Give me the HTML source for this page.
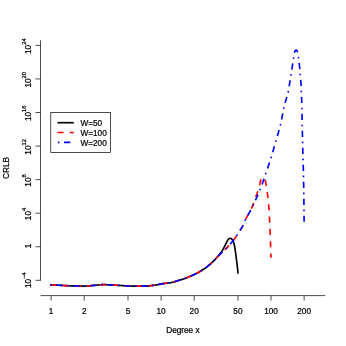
<!DOCTYPE html><html><head><meta charset="utf-8"><style>html,body{margin:0;padding:0;background:#fff}svg{display:block;will-change:transform}text{font-family:"Liberation Sans",sans-serif;fill:#000;stroke:#000;stroke-width:0.22px}</style></head><body>
<svg width="346" height="346" viewBox="0 0 346 346">
<rect width="346" height="346" fill="#fff"/>
<g fill="none" stroke-width="1.65" stroke-linejoin="round">
<path d="M50.20,284.90 L50.67,284.92 L51.14,284.93 L51.61,284.95 L52.08,284.97 L52.55,284.99 L53.03,285.01 L53.50,285.02 L53.97,285.04 L54.44,285.06 L54.91,285.08 L55.38,285.10 L55.85,285.12 L56.32,285.14 L56.79,285.16 L57.26,285.18 L57.73,285.20 L58.20,285.22 L58.68,285.24 L59.15,285.26 L59.62,285.28 L60.09,285.30 L60.56,285.33 L61.03,285.35 L61.50,285.37 L61.97,285.40 L62.44,285.42 L62.91,285.45 L63.38,285.48 L63.85,285.50 L64.32,285.53 L64.79,285.56 L65.26,285.58 L65.73,285.61 L66.21,285.63 L66.68,285.66 L67.15,285.68 L67.62,285.71 L68.09,285.73 L68.56,285.75 L69.03,285.77 L69.50,285.78 L69.97,285.80 L70.44,285.81 L70.91,285.83 L71.38,285.84 L71.86,285.86 L72.33,285.87 L72.80,285.89 L73.27,285.90 L73.74,285.91 L74.21,285.93 L74.68,285.94 L75.15,285.95 L75.63,285.97 L76.10,285.98 L76.57,285.99 L77.04,286.00 L77.51,286.01 L77.98,286.02 L78.45,286.03 L78.92,286.04 L79.40,286.05 L79.87,286.06 L80.34,286.07 L80.81,286.08 L81.28,286.08 L81.75,286.09 L82.22,286.09 L82.69,286.09 L83.16,286.10 L83.63,286.10 L84.10,286.10 L84.58,286.10 L85.05,286.09 L85.52,286.08 L85.99,286.06 L86.46,286.04 L86.93,286.01 L87.40,285.98 L87.87,285.95 L88.34,285.91 L88.81,285.87 L89.28,285.83 L89.75,285.79 L90.22,285.74 L90.69,285.70 L91.16,285.65 L91.63,285.61 L92.10,285.56 L92.57,285.52 L93.04,285.48 L93.51,285.44 L93.98,285.40 L94.45,285.36 L94.92,285.32 L95.38,285.28 L95.85,285.23 L96.32,285.18 L96.79,285.13 L97.26,285.08 L97.73,285.02 L98.20,284.97 L98.67,284.92 L99.14,284.87 L99.61,284.83 L100.08,284.78 L100.55,284.74 L101.02,284.70 L101.49,284.67 L101.96,284.64 L102.43,284.62 L102.90,284.61 L103.37,284.60 L103.84,284.60 L104.31,284.61 L104.78,284.62 L105.25,284.63 L105.72,284.65 L106.19,284.68 L106.66,284.70 L107.13,284.73 L107.60,284.76 L108.07,284.79 L108.54,284.82 L109.02,284.85 L109.49,284.87 L109.96,284.90 L110.43,284.92 L110.90,284.95 L111.37,284.97 L111.84,285.00 L112.31,285.02 L112.78,285.05 L113.25,285.07 L113.72,285.10 L114.19,285.13 L114.66,285.15 L115.13,285.18 L115.60,285.21 L116.07,285.23 L116.54,285.26 L117.02,285.28 L117.49,285.31 L117.96,285.34 L118.43,285.36 L118.90,285.39 L119.37,285.42 L119.84,285.45 L120.31,285.48 L120.78,285.51 L121.25,285.53 L121.72,285.56 L122.19,285.59 L122.66,285.62 L123.13,285.65 L123.60,285.68 L124.07,285.70 L124.54,285.73 L125.01,285.76 L125.48,285.78 L125.95,285.81 L126.42,285.83 L126.89,285.85 L127.37,285.87 L127.84,285.89 L128.31,285.91 L128.78,285.93 L129.25,285.95 L129.72,285.97 L130.19,285.99 L130.66,286.01 L131.13,286.04 L131.60,286.06 L132.07,286.07 L132.55,286.09 L133.02,286.11 L133.49,286.13 L133.96,286.14 L134.43,286.16 L134.90,286.17 L135.37,286.18 L135.84,286.19 L136.31,286.19 L136.78,286.20 L137.26,286.20 L137.73,286.20 L138.20,286.20 L138.67,286.19 L139.14,286.19 L139.61,286.18 L140.08,286.17 L140.56,286.16 L141.03,286.15 L141.50,286.14 L141.97,286.13 L142.44,286.12 L142.91,286.10 L143.38,286.09 L143.85,286.08 L144.32,286.06 L144.80,286.04 L145.27,286.03 L145.74,286.01 L146.21,285.99 L146.68,285.97 L147.15,285.95 L147.62,285.92 L148.09,285.89 L148.56,285.85 L149.03,285.81 L149.50,285.77 L149.97,285.73 L150.44,285.69 L150.91,285.64 L151.38,285.59 L151.85,285.54 L152.32,285.48 L152.78,285.43 L153.25,285.38 L153.72,285.32 L154.19,285.26 L154.65,285.21 L155.12,285.15 L155.58,285.08 L156.05,285.00 L156.51,284.92 L156.98,284.84 L157.44,284.75 L157.90,284.65 L158.36,284.56 L158.82,284.46 L159.29,284.36 L159.75,284.26 L160.21,284.17 L160.67,284.07 L161.14,283.98 L161.60,283.89 L162.06,283.80 L162.53,283.72 L162.99,283.65 L163.46,283.58 L163.92,283.51 L164.39,283.46 L164.86,283.40 L165.33,283.35 L165.80,283.30 L166.27,283.25 L166.73,283.20 L167.20,283.15 L167.67,283.10 L168.14,283.05 L168.61,282.99 L169.08,282.93 L169.54,282.87 L170.01,282.80 L170.47,282.72 L170.94,282.63 L171.40,282.53 L171.86,282.43 L172.32,282.33 L172.77,282.21 L173.23,282.09 L173.68,281.96 L174.13,281.83 L174.59,281.70 L175.04,281.56 L175.49,281.43 L175.94,281.29 L176.39,281.15 L176.84,281.01 L177.29,280.87 L177.74,280.74 L178.19,280.60 L178.65,280.47 L179.10,280.33 L179.55,280.19 L180.00,280.06 L180.45,279.92 L180.90,279.78 L181.35,279.64 L181.80,279.50 L182.25,279.36 L182.70,279.21 L183.15,279.06 L183.59,278.91 L184.04,278.76 L184.48,278.61 L184.93,278.45 L185.37,278.29 L185.81,278.12 L186.25,277.96 L186.69,277.79 L187.13,277.62 L187.57,277.45 L188.01,277.27 L188.45,277.09 L188.88,276.91 L189.32,276.73 L189.75,276.55 L190.19,276.36 L190.62,276.18 L191.05,275.99 L191.48,275.80 L191.91,275.61 L192.34,275.41 L192.77,275.22 L193.19,275.02 L193.62,274.82 L194.05,274.61 L194.47,274.41 L194.90,274.20 L195.32,273.99 L195.74,273.78 L196.16,273.57 L196.58,273.35 L197.00,273.13 L197.42,272.91 L197.83,272.69 L198.25,272.46 L198.66,272.24 L199.07,272.01 L199.48,271.77 L199.88,271.54 L200.29,271.30 L200.70,271.06 L201.10,270.82 L201.51,270.57 L201.91,270.32 L202.31,270.07 L202.71,269.82 L203.11,269.57 L203.50,269.31 L203.90,269.05 L204.29,268.78 L204.68,268.52 L205.06,268.25 L205.45,267.97 L205.83,267.70 L206.20,267.42 L206.58,267.14 L206.95,266.86 L207.32,266.57 L207.69,266.28 L208.06,265.98 L208.43,265.68 L208.79,265.38 L209.15,265.08 L209.51,264.77 L209.87,264.46 L210.22,264.15 L210.58,263.84 L210.93,263.52 L211.28,263.20 L211.63,262.88 L211.97,262.56 L212.32,262.24 L212.66,261.91 L213.00,261.59 L213.34,261.26 L213.67,260.93 L214.00,260.60 L214.33,260.26 L214.66,259.92 L214.99,259.58 L215.31,259.24 L215.63,258.89 L215.94,258.54 L216.26,258.19 L216.57,257.83 L216.88,257.48 L217.19,257.12 L217.50,256.77 L217.80,256.41 L218.10,256.04 L218.40,255.68 L218.70,255.31 L218.99,254.94 L219.28,254.57 L219.58,254.20 L219.87,253.83 L220.16,253.46 L220.45,253.09 L220.74,252.72 L221.02,252.34 L221.30,251.96 L221.58,251.58 L221.85,251.19 L222.11,250.80 L222.37,250.41 L222.61,250.01 L222.85,249.60 L223.07,249.19 L223.29,248.77 L223.51,248.35 L223.73,247.93 L223.95,247.51 L224.17,247.10 L224.38,246.68 L224.60,246.26 L224.82,245.84 L225.03,245.42 L225.25,245.00 L225.46,244.58 L225.67,244.16 L225.88,243.74 L226.09,243.32 L226.30,242.90 L226.51,242.47 L226.72,242.05 L226.93,241.63 L227.14,241.20 L227.35,240.78 L227.59,240.37 L227.85,239.98 L228.13,239.58 L228.44,239.21 L228.78,238.91 L229.17,238.67 L229.62,238.46 L230.08,238.35 L230.54,238.40 L231.00,238.56 L231.42,238.76 L231.79,239.06 L232.11,239.41 L232.38,239.79 L232.61,240.21 L232.82,240.64 L233.01,241.06 L233.19,241.50 L233.37,241.94 L233.54,242.38 L233.70,242.83 L233.85,243.28 L233.99,243.73 L234.12,244.19 L234.24,244.64 L234.34,245.09 L234.44,245.55 L234.54,246.01 L234.63,246.47 L234.71,246.93 L234.79,247.40 L234.87,247.86 L234.94,248.33 L235.01,248.80 L235.08,249.26 L235.15,249.73 L235.22,250.20 L235.28,250.67 L235.35,251.14 L235.41,251.61 L235.48,252.07 L235.55,252.54 L235.61,253.01 L235.68,253.47 L235.74,253.94 L235.80,254.41 L235.87,254.87 L235.93,255.34 L235.99,255.81 L236.04,256.28 L236.10,256.74 L236.16,257.21 L236.22,257.68 L236.28,258.15 L236.34,258.61 L236.40,259.08 L236.46,259.55 L236.52,260.02 L236.58,260.48 L236.64,260.95 L236.70,261.42 L236.76,261.89 L236.83,262.35 L236.89,262.82 L236.95,263.29 L237.01,263.75 L237.07,264.22 L237.13,264.69 L237.19,265.16 L237.24,265.63 L237.29,266.09 L237.35,266.56 L237.40,267.03 L237.44,267.50 L237.49,267.97 L237.54,268.44 L237.59,268.91 L237.63,269.37 L237.68,269.84 L237.72,270.31 L237.76,270.78 L237.81,271.25 L237.85,271.72 L237.89,272.19 L237.93,272.66 L237.96,273.13 L238.00,273.60" stroke="#000"/>
<path d="M50.20,284.90 L50.90,284.93 L51.60,284.95 L52.30,284.98 L53.00,285.01 L53.71,285.03 L54.41,285.06 L55.11,285.09 L55.81,285.12 L56.51,285.15 L57.21,285.18 L57.91,285.21 L58.61,285.24 L59.31,285.27 L60.01,285.30 L60.71,285.33 L61.41,285.37 L62.12,285.41 L62.82,285.44 L63.52,285.48 L64.22,285.52 L64.92,285.56 L65.62,285.60 L66.32,285.64 L67.02,285.68 L67.72,285.71 L68.42,285.74 L69.12,285.77 L69.82,285.79 L70.52,285.82 L71.22,285.84 L71.93,285.86 L72.63,285.88 L73.33,285.90 L74.03,285.92 L74.73,285.94 L75.43,285.96 L76.13,285.98 L76.84,286.00 L77.54,286.01 L78.24,286.03 L78.94,286.04 L79.64,286.06 L80.34,286.07 L81.05,286.08 L81.75,286.09 L82.45,286.09 L83.15,286.10 L83.85,286.10 L84.55,286.10 L85.25,286.09 L85.95,286.06 L86.65,286.03 L87.35,285.98 L88.05,285.93 L88.75,285.87 L89.45,285.81 L90.15,285.75 L90.85,285.68 L91.55,285.62 L92.25,285.55 L92.95,285.49 L93.65,285.43 L94.35,285.37 L95.04,285.31 L95.74,285.24 L96.44,285.17 L97.14,285.09 L97.84,285.01 L98.54,284.94 L99.24,284.86 L99.94,284.79 L100.64,284.73 L101.33,284.68 L102.03,284.64 L102.73,284.61 L103.43,284.60 L104.13,284.60 L104.83,284.62 L105.53,284.65 L106.24,284.68 L106.94,284.72 L107.64,284.76 L108.34,284.80 L109.04,284.85 L109.74,284.89 L110.44,284.92 L111.14,284.96 L111.84,285.00 L112.54,285.03 L113.24,285.07 L113.94,285.11 L114.64,285.15 L115.34,285.19 L116.04,285.23 L116.74,285.27 L117.45,285.31 L118.15,285.35 L118.85,285.39 L119.55,285.43 L120.25,285.47 L120.95,285.52 L121.65,285.56 L122.35,285.60 L123.05,285.64 L123.75,285.68 L124.45,285.72 L125.15,285.76 L125.85,285.80 L126.55,285.84 L127.25,285.87 L127.95,285.90 L128.65,285.93 L129.35,285.96 L130.05,285.99 L130.76,286.02 L131.46,286.05 L132.16,286.08 L132.86,286.11 L133.56,286.13 L134.26,286.15 L134.96,286.17 L135.66,286.19 L136.36,286.19 L137.07,286.20 L137.77,286.20 L138.47,286.20 L139.17,286.19 L139.87,286.18 L140.57,286.16 L141.28,286.15 L141.98,286.13 L142.68,286.11 L143.38,286.09 L144.08,286.07 L144.78,286.04 L145.48,286.02 L146.18,285.99 L146.88,285.96 L147.58,285.92 L148.28,285.87 L148.98,285.82 L149.68,285.76 L150.38,285.69 L151.08,285.62 L151.78,285.54 L152.48,285.47 L153.18,285.38 L153.87,285.30 L154.57,285.22 L155.26,285.13 L155.95,285.02 L156.64,284.90 L157.33,284.77 L158.02,284.63 L158.71,284.48 L159.40,284.34 L160.08,284.19 L160.77,284.05 L161.46,283.91 L162.15,283.79 L162.84,283.67 L163.53,283.57 L164.23,283.48 L164.93,283.39 L165.62,283.32 L166.32,283.24 L167.02,283.17 L167.72,283.10 L168.42,283.02 L169.11,282.93 L169.81,282.83 L170.50,282.72 L171.19,282.58 L171.87,282.43 L172.55,282.27 L173.23,282.09 L173.91,281.90 L174.58,281.70 L175.25,281.50 L175.92,281.29 L176.59,281.08 L177.27,280.88 L177.94,280.68 L178.61,280.48 L179.28,280.28 L179.95,280.07 L180.63,279.87 L181.30,279.66 L181.97,279.45 L182.63,279.23 L183.30,279.01 L183.96,278.79 L184.62,278.56 L185.28,278.32 L185.94,278.08 L186.60,277.83 L187.25,277.57 L187.90,277.31 L188.55,277.05 L189.20,276.78 L189.85,276.51 L190.50,276.23 L191.14,275.95 L191.78,275.67 L192.42,275.38 L193.05,275.08 L193.69,274.79 L194.32,274.48 L194.96,274.17 L195.58,273.86 L196.21,273.54 L196.84,273.22 L197.46,272.89 L198.07,272.56 L198.68,272.22 L199.29,271.88 L199.90,271.53 L200.51,271.17 L201.11,270.81 L201.71,270.45 L202.31,270.07 L202.90,269.70 L203.49,269.31 L204.08,268.92 L204.66,268.53 L205.23,268.13 L205.80,267.72 L206.36,267.31 L206.92,266.88 L207.47,266.45 L208.02,266.02 L208.56,265.57 L209.10,265.12 L209.64,264.66 L210.17,264.20 L210.69,263.73 L211.22,263.26 L211.73,262.78 L212.25,262.30 L212.76,261.82 L213.26,261.34 L213.76,260.84 L214.24,260.34 L214.72,259.83 L215.19,259.31 L215.66,258.78 L216.13,258.26 L216.60,257.74 L217.08,257.23 L217.57,256.72 L218.06,256.22 L218.55,255.72 L219.04,255.22 L219.54,254.73 L220.04,254.23 L220.54,253.74 L221.04,253.25 L221.54,252.76 L222.05,252.27 L222.56,251.79 L223.07,251.31 L223.59,250.83 L224.11,250.36 L224.62,249.89 L225.14,249.41 L225.65,248.93 L226.16,248.44 L226.66,247.95 L227.15,247.46 L227.63,246.95 L228.11,246.44 L228.59,245.93 L229.06,245.41 L229.53,244.88 L230.00,244.36 L230.46,243.83 L230.92,243.29 L231.37,242.75 L231.82,242.21 L232.26,241.67 L232.69,241.12 L233.12,240.57 L233.55,240.01 L233.97,239.45 L234.38,238.89 L234.79,238.32 L235.20,237.75 L235.60,237.17 L236.00,236.59 L236.40,236.01 L236.79,235.43 L237.18,234.84 L237.56,234.26 L237.95,233.67 L238.33,233.08 L238.71,232.49 L239.09,231.90 L239.48,231.31 L239.86,230.72 L240.24,230.13 L240.62,229.54 L241.00,228.94 L241.37,228.34 L241.73,227.74 L242.08,227.14 L242.42,226.52 L242.74,225.91 L243.05,225.28 L243.35,224.65 L243.62,224.00 L243.89,223.35 L244.15,222.70 L244.40,222.04 L244.66,221.39 L244.93,220.74 L245.21,220.10 L245.51,219.47 L245.83,218.84 L246.16,218.22 L246.50,217.61 L246.85,217.00 L247.21,216.40 L247.57,215.79 L247.93,215.19 L248.30,214.59 L248.67,213.99 L249.03,213.38 L249.38,212.78 L249.73,212.17 L250.07,211.55 L250.40,210.93 L250.71,210.31 L251.00,209.68 L251.28,209.04 L251.55,208.39 L251.81,207.74 L252.07,207.08 L252.32,206.42 L252.57,205.77 L252.83,205.12 L253.08,204.46 L253.33,203.81 L253.58,203.15 L253.83,202.49 L254.07,201.84 L254.31,201.18 L254.54,200.51 L254.77,199.85 L254.99,199.18 L255.21,198.52 L255.44,197.86 L255.67,197.19 L255.92,196.54 L256.18,195.88 L256.44,195.23 L256.69,194.58 L256.93,193.92 L257.15,193.25 L257.36,192.58 L257.56,191.91 L257.76,191.24 L257.95,190.57 L258.15,189.89 L258.34,189.21 L258.53,188.54 L258.72,187.87 L258.91,187.19 L259.10,186.51 L259.28,185.84 L259.47,185.16 L259.66,184.48 L259.84,183.80 L260.00,183.10 L260.17,182.40 L260.34,181.70 L260.53,181.02 L260.75,180.37 L260.99,179.74 L261.30,179.11 L261.71,178.40 L262.20,177.74 L262.70,177.29 L263.16,177.23 L263.65,177.58 L264.15,178.20 L264.58,178.93 L264.89,179.59 L265.11,180.21 L265.32,180.86 L265.49,181.53 L265.65,182.22 L265.80,182.93 L265.93,183.63 L266.06,184.35 L266.18,185.05 L266.31,185.75 L266.43,186.43 L266.55,187.13 L266.66,187.82 L266.77,188.51 L266.87,189.21 L266.97,189.90 L267.06,190.60 L267.16,191.29 L267.25,191.99 L267.34,192.68 L267.42,193.38 L267.51,194.08 L267.59,194.77 L267.67,195.47 L267.75,196.17 L267.83,196.87 L267.90,197.56 L267.97,198.26 L268.05,198.96 L268.12,199.66 L268.19,200.35 L268.26,201.05 L268.33,201.75 L268.39,202.45 L268.46,203.15 L268.52,203.85 L268.58,204.54 L268.64,205.24 L268.70,205.94 L268.76,206.64 L268.82,207.34 L268.88,208.04 L268.93,208.74 L268.98,209.44 L269.03,210.14 L269.08,210.84 L269.12,211.54 L269.16,212.24 L269.21,212.94 L269.25,213.64 L269.28,214.34 L269.32,215.04 L269.36,215.74 L269.40,216.44 L269.43,217.14 L269.47,217.84 L269.50,218.54 L269.53,219.24 L269.57,219.95 L269.60,220.65 L269.63,221.35 L269.66,222.05 L269.69,222.75 L269.72,223.45 L269.76,224.15 L269.79,224.85 L269.81,225.55 L269.84,226.25 L269.87,226.95 L269.90,227.65 L269.93,228.36 L269.95,229.06 L269.98,229.76 L270.01,230.46 L270.03,231.16 L270.06,231.86 L270.09,232.56 L270.11,233.26 L270.14,233.96 L270.17,234.67 L270.19,235.37 L270.22,236.07 L270.25,236.77 L270.28,237.47 L270.30,238.17 L270.33,238.87 L270.36,239.57 L270.39,240.27 L270.41,240.97 L270.44,241.67 L270.47,242.38 L270.50,243.08 L270.52,243.78 L270.55,244.48 L270.58,245.18 L270.60,245.88 L270.63,246.58 L270.65,247.28 L270.68,247.98 L270.70,248.69 L270.73,249.39 L270.75,250.09 L270.78,250.79 L270.80,251.49 L270.82,252.19 L270.85,252.89 L270.87,253.59 L270.89,254.29 L270.91,255.00 L270.94,255.70 L270.96,256.40 L270.98,257.10 L271.00,257.80" stroke="#f00" stroke-dasharray="6.180 6.180"/>
<path d="M50.20,284.90 L51.35,284.94 L52.49,284.99 L53.64,285.03 L54.79,285.08 L55.93,285.12 L57.08,285.17 L58.23,285.22 L59.37,285.27 L60.52,285.32 L61.67,285.38 L62.81,285.44 L63.96,285.51 L65.11,285.57 L66.25,285.64 L67.40,285.70 L68.55,285.75 L69.69,285.79 L70.84,285.83 L71.99,285.86 L73.13,285.90 L74.28,285.93 L75.43,285.96 L76.58,285.99 L77.73,286.02 L78.87,286.04 L80.02,286.06 L81.17,286.08 L82.32,286.09 L83.46,286.10 L84.61,286.10 L85.75,286.07 L86.90,286.01 L88.04,285.93 L89.19,285.84 L90.33,285.73 L91.48,285.62 L92.62,285.52 L93.77,285.42 L94.91,285.32 L96.06,285.21 L97.20,285.08 L98.34,284.96 L99.49,284.84 L100.63,284.73 L101.77,284.65 L102.92,284.61 L104.06,284.60 L105.21,284.63 L106.35,284.68 L107.50,284.75 L108.65,284.82 L109.80,284.89 L110.94,284.95 L112.09,285.01 L113.23,285.07 L114.38,285.14 L115.53,285.20 L116.67,285.27 L117.82,285.33 L118.96,285.40 L120.11,285.46 L121.26,285.53 L122.40,285.60 L123.55,285.67 L124.69,285.74 L125.84,285.80 L126.98,285.86 L128.13,285.91 L129.28,285.95 L130.43,286.00 L131.57,286.05 L132.72,286.10 L133.87,286.14 L135.01,286.17 L136.16,286.19 L137.31,286.20 L138.46,286.20 L139.60,286.18 L140.75,286.16 L141.90,286.13 L143.05,286.10 L144.20,286.06 L145.34,286.02 L146.49,285.98 L147.63,285.92 L148.78,285.83 L149.92,285.73 L151.07,285.62 L152.21,285.50 L153.35,285.36 L154.49,285.23 L155.62,285.07 L156.75,284.88 L157.88,284.66 L159.00,284.42 L160.13,284.18 L161.26,283.95 L162.39,283.74 L163.52,283.57 L164.66,283.42 L165.80,283.30 L166.94,283.18 L168.08,283.06 L169.22,282.91 L170.35,282.74 L171.48,282.52 L172.60,282.26 L173.70,281.96 L174.81,281.63 L175.91,281.30 L177.00,280.96 L178.10,280.63 L179.20,280.30 L180.30,279.97 L181.40,279.63 L182.49,279.28 L183.58,278.92 L184.67,278.54 L185.74,278.15 L186.82,277.74 L187.89,277.32 L188.95,276.89 L190.01,276.44 L191.06,275.98 L192.11,275.52 L193.15,275.04 L194.19,274.55 L195.22,274.04 L196.25,273.52 L197.27,272.99 L198.28,272.45 L199.28,271.89 L200.27,271.31 L201.26,270.72 L202.24,270.12 L203.21,269.50 L204.17,268.86 L205.11,268.21 L206.04,267.55 L206.95,266.86 L207.85,266.15 L208.74,265.42 L209.62,264.68 L210.49,263.92 L211.34,263.15 L212.18,262.36 L213.02,261.57 L213.83,260.77 L214.62,259.94 L215.39,259.09 L216.16,258.23 L216.94,257.38 L217.73,256.56 L218.53,255.74 L219.34,254.92 L220.16,254.11 L220.98,253.31 L221.80,252.51 L222.63,251.72 L223.48,250.94 L224.32,250.16 L225.17,249.38 L226.00,248.59 L226.82,247.79 L227.61,246.97 L228.40,246.13 L229.17,245.28 L229.94,244.43 L230.69,243.56 L231.43,242.68 L232.16,241.79 L232.87,240.89 L233.57,239.98 L234.25,239.07 L234.93,238.13 L235.59,237.19 L236.24,236.25 L236.88,235.29 L237.51,234.33 L238.14,233.37 L238.77,232.41 L239.39,231.44 L240.02,230.48 L240.64,229.51 L241.25,228.53 L241.84,227.55 L242.40,226.55 L242.93,225.54 L243.41,224.50 L243.85,223.44 L244.27,222.37 L244.70,221.30 L245.15,220.24 L245.64,219.21 L246.16,218.19 L246.72,217.19 L247.29,216.19 L247.87,215.20 L248.46,214.21 L249.04,213.22 L249.62,212.23 L250.19,211.23 L250.73,210.22 L251.26,209.20 L251.77,208.17 L252.27,207.14 L252.76,206.10 L253.25,205.06 L253.73,204.02 L254.21,202.98 L254.69,201.93 L255.16,200.89 L255.64,199.84 L256.12,198.80 L256.60,197.76 L257.08,196.71 L257.55,195.67 L258.01,194.61 L258.46,193.56 L258.91,192.50 L259.35,191.44 L259.78,190.38 L260.20,189.31 L260.61,188.24 L261.01,187.17 L261.41,186.09 L261.81,185.01 L262.20,183.93 L262.59,182.85 L262.97,181.77 L263.35,180.69 L263.73,179.61 L264.11,178.52 L264.48,177.43 L264.86,176.35 L265.23,175.26 L265.60,174.18 L265.97,173.09 L266.34,172.01 L266.71,170.92 L267.08,169.83 L267.45,168.74 L267.82,167.66 L268.18,166.57 L268.54,165.48 L268.90,164.39 L269.26,163.30 L269.62,162.21 L269.97,161.11 L270.32,160.02 L270.66,158.93 L271.00,157.83 L271.34,156.73 L271.68,155.64 L272.01,154.54 L272.34,153.44 L272.66,152.34 L272.98,151.24 L273.30,150.13 L273.62,149.03 L273.93,147.93 L274.25,146.82 L274.56,145.72 L274.87,144.61 L275.19,143.51 L275.50,142.40 L275.81,141.30 L276.13,140.20 L276.45,139.09 L276.77,137.99 L277.10,136.89 L277.42,135.79 L277.75,134.69 L278.07,133.58 L278.40,132.48 L278.71,131.38 L279.02,130.27 L279.33,129.17 L279.63,128.06 L279.92,126.95 L280.20,125.84 L280.47,124.72 L280.73,123.61 L280.98,122.49 L281.21,121.37 L281.44,120.24 L281.66,119.12 L281.88,117.99 L282.09,116.86 L282.30,115.73 L282.51,114.60 L282.73,113.47 L282.94,112.34 L283.16,111.21 L283.39,110.09 L283.62,108.96 L283.86,107.84 L284.12,106.73 L284.39,105.61 L284.68,104.50 L284.98,103.39 L285.29,102.29 L285.61,101.18 L285.94,100.08 L286.26,98.98 L286.59,97.87 L286.90,96.77 L287.21,95.66 L287.51,94.55 L287.79,93.44 L288.04,92.33 L288.28,91.21 L288.50,90.09 L288.72,88.96 L288.92,87.83 L289.12,86.70 L289.31,85.57 L289.50,84.44 L289.68,83.30 L289.86,82.17 L290.04,81.03 L290.21,79.90 L290.38,78.76 L290.56,77.62 L290.73,76.49 L290.91,75.35 L291.09,74.22 L291.27,73.09 L291.45,71.95 L291.62,70.82 L291.80,69.68 L291.97,68.55 L292.14,67.42 L292.32,66.28 L292.49,65.15 L292.66,64.01 L292.83,62.88 L293.00,61.74 L293.17,60.61 L293.34,59.47 L293.52,58.34 L293.69,57.20 L293.83,56.03 L293.97,54.87 L294.15,53.74 L294.38,52.66 L294.85,51.46 L295.56,50.34 L296.26,50.04 L297.01,50.82 L297.65,52.05 L297.94,53.13 L298.12,54.25 L298.25,55.40 L298.37,56.58 L298.49,57.74 L298.64,58.88 L298.78,60.02 L298.91,61.15 L299.05,62.29 L299.19,63.43 L299.34,64.57 L299.48,65.71 L299.62,66.85 L299.76,67.99 L299.88,69.13 L299.97,70.27 L300.06,71.42 L300.14,72.56 L300.22,73.71 L300.30,74.85 L300.39,76.00 L300.49,77.14 L300.58,78.29 L300.67,79.43 L300.75,80.58 L300.83,81.72 L300.91,82.87 L300.98,84.01 L301.05,85.16 L301.10,86.30 L301.15,87.45 L301.20,88.60 L301.23,89.74 L301.27,90.89 L301.32,92.04 L301.36,93.19 L301.40,94.33 L301.45,95.48 L301.50,96.63 L301.55,97.77 L301.62,98.92 L301.68,100.06 L301.74,101.21 L301.79,102.36 L301.82,103.50 L301.84,104.65 L301.86,105.80 L301.88,106.95 L301.90,108.10 L301.92,109.24 L301.94,110.39 L301.96,111.54 L301.98,112.69 L302.00,113.83 L302.02,114.98 L302.04,116.13 L302.06,117.28 L302.08,118.42 L302.10,119.57 L302.12,120.72 L302.13,121.87 L302.15,123.01 L302.17,124.16 L302.19,125.31 L302.22,126.46 L302.24,127.60 L302.27,128.75 L302.30,129.90 L302.33,131.05 L302.37,132.19 L302.40,133.34 L302.43,134.49 L302.46,135.64 L302.49,136.78 L302.51,137.93 L302.53,139.08 L302.55,140.23 L302.57,141.37 L302.60,142.52 L302.62,143.67 L302.65,144.82 L302.68,145.96 L302.71,147.11 L302.74,148.26 L302.78,149.41 L302.81,150.55 L302.84,151.70 L302.87,152.85 L302.89,154.00 L302.92,155.14 L302.94,156.29 L302.96,157.44 L302.98,158.59 L303.00,159.73 L303.03,160.88 L303.07,162.03 L303.12,163.17 L303.16,164.32 L303.21,165.47 L303.26,166.61 L303.31,167.76 L303.35,168.91 L303.38,170.06 L303.41,171.20 L303.43,172.35 L303.45,173.50 L303.47,174.65 L303.49,175.79 L303.51,176.94 L303.53,178.09 L303.56,179.24 L303.58,180.38 L303.60,181.53 L303.62,182.68 L303.64,183.83 L303.67,184.97 L303.69,186.12 L303.71,187.27 L303.73,188.42 L303.75,189.56 L303.77,190.71 L303.78,191.86 L303.80,193.01 L303.82,194.15 L303.83,195.30 L303.85,196.45 L303.86,197.60 L303.88,198.75 L303.89,199.89 L303.90,201.04 L303.92,202.19 L303.93,203.34 L303.94,204.48 L303.96,205.63 L303.97,206.78 L303.98,207.93 L303.99,209.08 L304.00,210.22 L304.01,211.37 L304.02,212.52 L304.03,213.67 L304.04,214.81 L304.05,215.96 L304.06,217.11 L304.07,218.26 L304.08,219.40 L304.09,220.55 L304.10,221.70" stroke="#00f" stroke-dasharray="1.545 4.635 6.180 4.635"/>
</g>
<g stroke="#000" stroke-width="0.7" fill="none">
<path d="M40.5,295.6 H325.3"/>
<path d="M51.1,295.6 V300.6"/>
<path d="M84.2,295.6 V300.6"/>
<path d="M128.0,295.6 V300.6"/>
<path d="M161.1,295.6 V300.6"/>
<path d="M194.2,295.6 V300.6"/>
<path d="M237.95,295.6 V300.6"/>
<path d="M271.05,295.6 V300.6"/>
<path d="M304.15,295.6 V300.6"/>
<path d="M40.5,40.3 V280.62"/>
<path d="M40.5,45.40 H35.5"/>
<path d="M40.5,78.96 H35.5"/>
<path d="M40.5,112.52 H35.5"/>
<path d="M40.5,146.08 H35.5"/>
<path d="M40.5,179.64 H35.5"/>
<path d="M40.5,213.20 H35.5"/>
<path d="M40.5,246.76 H35.5"/>
<path d="M40.5,280.32 H35.5"/>
</g>
<text x="51.1" y="313.6" font-size="8.24" text-anchor="middle">1</text>
<text x="84.2" y="313.6" font-size="8.24" text-anchor="middle">2</text>
<text x="128.0" y="313.6" font-size="8.24" text-anchor="middle">5</text>
<text x="161.1" y="313.6" font-size="8.24" text-anchor="middle">10</text>
<text x="194.2" y="313.6" font-size="8.24" text-anchor="middle">20</text>
<text x="237.95" y="313.6" font-size="8.24" text-anchor="middle">50</text>
<text x="271.05" y="313.6" font-size="8.24" text-anchor="middle">100</text>
<text x="304.15" y="313.6" font-size="8.24" text-anchor="middle">200</text>
<text x="182.9" y="333.2" font-size="8.24" text-anchor="middle">Degree x</text>
<text transform="translate(30.5,46.20) rotate(-90)" font-size="8.24" text-anchor="middle">10<tspan font-size="5.77" dy="-4.7">24</tspan></text>
<text transform="translate(30.5,79.76) rotate(-90)" font-size="8.24" text-anchor="middle">10<tspan font-size="5.77" dy="-4.7">20</tspan></text>
<text transform="translate(30.5,113.32) rotate(-90)" font-size="8.24" text-anchor="middle">10<tspan font-size="5.77" dy="-4.7">16</tspan></text>
<text transform="translate(30.5,146.88) rotate(-90)" font-size="8.24" text-anchor="middle">10<tspan font-size="5.77" dy="-4.7">12</tspan></text>
<text transform="translate(30.5,180.44) rotate(-90)" font-size="8.24" text-anchor="middle">10<tspan font-size="5.77" dy="-4.7">8</tspan></text>
<text transform="translate(30.5,214.00) rotate(-90)" font-size="8.24" text-anchor="middle">10<tspan font-size="5.77" dy="-4.7">4</tspan></text>
<text transform="translate(30.5,246.06) rotate(-90)" font-size="8.24" text-anchor="middle">1</text>
<text transform="translate(30.5,280.12) rotate(-90)" font-size="8.24" text-anchor="middle">10<tspan font-size="5.77" dy="-4.7">−4</tspan></text>
<text transform="translate(9.2,167.9) rotate(-90)" font-size="8.24" text-anchor="middle">CRLB</text>
<rect x="50.8" y="112.5" width="59.6" height="39.9" fill="#fff" stroke="#000" stroke-width="0.7"/>
<g fill="none" stroke-width="1.65">
<path d="M57.4,122.7 H73.8" stroke="#000"/>
<path d="M57.4,132.45 H73.8" stroke="#f00" stroke-dasharray="6.180 6.180"/>
<path d="M57.9,142.4 H73.8" stroke="#00f" stroke-dasharray="1.545 4.635 6.180 4.635"/>
</g>
<text x="80.4" y="125.75" font-size="8.24">W=50</text>
<text x="80.4" y="135.70" font-size="8.24">W=100</text>
<text x="80.4" y="145.65" font-size="8.24">W=200</text>
</svg></body></html>
